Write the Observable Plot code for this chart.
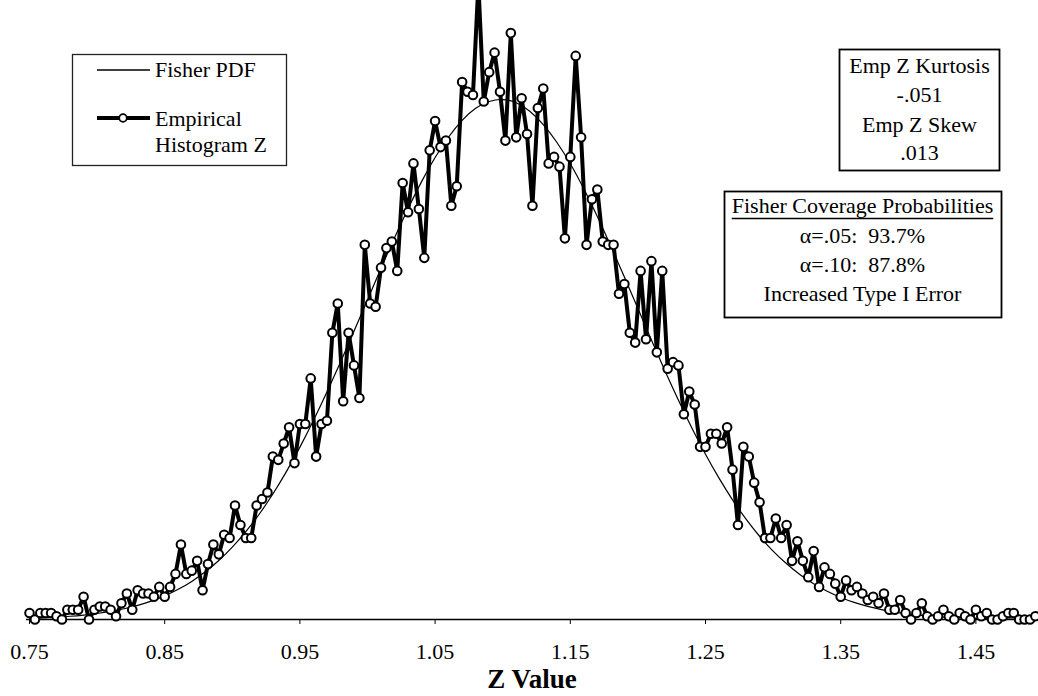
<!DOCTYPE html>
<html><head><meta charset="utf-8">
<script src="https://cdn.jsdelivr.net/npm/d3@7"></script>
<script src="https://cdn.jsdelivr.net/npm/@observablehq/plot@0.6"></script>
<style>html,body{margin:0;padding:0;background:#fff;overflow:hidden}</style>
</head><body><div id="chart"></div>
<script>
// Empirical histogram of Z: bins start at 0.75, width 0.004 (counts)
const binStart = 0.75;
const binWidth = 0.004;
const empCounts = [
  2,0,2,2,2,1,0,3,3,3,
  7,0,3,4,4,3,1,5,8,3,
  9,8,8,7,10,7,10,14,23,14,
  15,18,9,17,23,20,26,25,35,29,
  25,25,35,37,39,50,49,54,59,48,
  60,60,74,50,60,61,88,97,67,88,
  78,68,115,97,96,108,114,116,107,134,
  125,140,126,111,144,153,145,147,127,133,
  165,162,161,195,159,168,174,162,147,180,
  148,160,149,127,157,163,140,142,139,117,
  142,173,148,115,129,132,116,115,115,100,
  103,88,85,107,86,110,82,107,77,79,
  78,63,70,66,53,53,57,57,54,59,
  46,29,53,50,42,36,25,25,31,25,
  29,18,24,18,13,21,10,16,14,11,
  7,12,9,10,8,6,7,5,8,3,
  3,6,2,0,2,5,1,0,1,3,
  1,0,2,1,0,3,1,2,0,0,
  1,2,2,0,0,0,1
];
// Fisher PDF curve, read at 0.01 steps
const pdfX = [0.75,0.76,0.77,0.78,0.79,0.80,0.81,0.82,0.83,0.84,
  0.85,0.86,0.87,0.88,0.89,0.90,0.91,0.92,0.93,0.94,
  0.95,0.96,0.97,0.98,0.99,1.00,1.01,1.02,1.03,1.04,
  1.05,1.06,1.07,1.08,1.09,1.10,1.11,1.12,1.13,1.14,
  1.15,1.16,1.17,1.18,1.19,1.20,1.21,1.22,1.23,1.24,
  1.25,1.26,1.27,1.28,1.29,1.30,1.31,1.32,1.33,1.34,
  1.35,1.36,1.37,1.38,1.39,1.40,1.41,1.42,1.43,1.44,
  1.45,1.46,1.47,1.48,1.49,1.50];
const pdfY = [0.37,0.52,0.72,1.0,1.37,1.85,2.48,3.29,4.33,5.63,
  7.26,9.27,11.70,14.63,18.11,22.21,26.96,32.39,38.52,45.38,
  52.91,61.08,69.81,78.99,88.50,98.15,107.8,117.2,126.1,134.4,
  141.8,148.1,153.2,156.9,159.0,159.6,158.6,156.0,151.9,146.5,
  139.9,132.2,123.7,114.6,105.1,95.44,85.82,76.38,67.32,58.73,
  50.74,43.39,36.74,30.80,25.55,21.00,17.09,13.75,10.97,8.66,
  6.77,5.24,4.01,3.05,2.29,1.70,1.25,0.91,0.66,0.47,
  0.33,0.23,0.16,0.11,0.08,0.05];
const tickValues = [0.75,0.85,0.95,1.05,1.15,1.25,1.35,1.45];
const legendLabels = ["Fisher PDF", "Empirical", "Histogram Z"];
const statsLines = ["Emp Z Kurtosis", "-.051", "Emp Z Skew", ".013"];
const coverageTitle = "Fisher Coverage Probabilities";
const coverageLines = ["\u03b1=.05:\u00a0\u00a093.7%", "\u03b1=.10:\u00a0\u00a087.8%", "Increased Type I Error"];
const xTitle = "Z Value";

const emp = empCounts.map((c, i) => ({x: binStart + i * binWidth, y: c}));
const pdf = pdfX.map((x, i) => ({x, y: pdfY[i]}));

const serif = "'Liberation Serif', 'Times New Roman', Times, serif";
const chart = Plot.plot({
  width: 1038, height: 696,
  marginLeft: 26, marginRight: 0, marginTop: 0, marginBottom: 77,
  style: {fontFamily: serif, fontSize: "22px", background: "white", color: "black"},
  x: {domain: [0.74778, 1.4963], axis: null},
  y: {domain: [0, 190], axis: null},
  marks: [
    Plot.ruleY([0], {stroke: "black", strokeWidth: 1.3}),
    Plot.axisX({ticks: tickValues, tickFormat: d => d.toFixed(2), tickSize: 5, tickPadding: 19, label: null}),
    Plot.line(pdf, {x: "x", y: "y", curve: "natural", stroke: "black", strokeWidth: 1.2}),
    Plot.line(emp, {x: "x", y: "y", stroke: "black", strokeWidth: 4}),
    Plot.dot(emp, {x: "x", y: "y", r: 4.3, stroke: "black", strokeWidth: 2, fill: "white"})
  ]
});
document.getElementById("chart").appendChild(chart);

const svg = d3.select(chart);
const g = svg.append("g").attr("font-family", serif).attr("font-size", 22).attr("fill", "black");

// Legend
g.append("rect").attr("x", 72.5).attr("y", 54.5).attr("width", 214).attr("height", 111)
  .attr("fill", "white").attr("stroke", "#222").attr("stroke-width", 1.3);
g.append("line").attr("x1", 97).attr("x2", 150).attr("y1", 70).attr("y2", 70).attr("stroke", "black").attr("stroke-width", 1.3);
g.append("line").attr("x1", 97).attr("x2", 150).attr("y1", 118).attr("y2", 118).attr("stroke", "black").attr("stroke-width", 4);
g.append("circle").attr("cx", 123).attr("cy", 118).attr("r", 3.8).attr("fill", "white").attr("stroke", "black").attr("stroke-width", 1.8);
g.append("text").attr("x", 155).attr("y", 77).attr("text-anchor", "start").text(legendLabels[0]);
g.append("text").attr("x", 155).attr("y", 126).attr("text-anchor", "start").text(legendLabels[1]);
g.append("text").attr("x", 155).attr("y", 152).attr("text-anchor", "start").text(legendLabels[2]);

// Stats box
g.append("rect").attr("x", 839.5).attr("y", 49.5).attr("width", 160).attr("height", 121)
  .attr("fill", "white").attr("stroke", "black").attr("stroke-width", 1.8);
[73, 102, 131.5, 160].forEach((yy, i) => {
  g.append("text").attr("x", 919.5).attr("y", yy).attr("text-anchor", "middle").text(statsLines[i]);
});

// Coverage box
g.append("rect").attr("x", 724.5).attr("y", 191.5).attr("width", 277).attr("height", 126)
  .attr("fill", "white").attr("stroke", "black").attr("stroke-width", 1.8);
const ct = g.append("text").attr("x", 862.5).attr("y", 213).attr("text-anchor", "middle").text(coverageTitle);
const bb = ct.node().getBBox();
g.append("line").attr("x1", bb.x).attr("x2", bb.x + bb.width).attr("y1", 218.5).attr("y2", 218.5)
  .attr("stroke", "black").attr("stroke-width", 1.6);
[243, 272, 301].forEach((yy, i) => {
  g.append("text").attr("x", 862.5).attr("y", yy).attr("text-anchor", "middle").text(coverageLines[i]);
});

// X title
g.append("text").attr("x", 532).attr("y", 688).attr("text-anchor", "middle")
  .attr("font-weight", "bold").attr("font-size", 27).text(xTitle);
</script>
</body></html>
